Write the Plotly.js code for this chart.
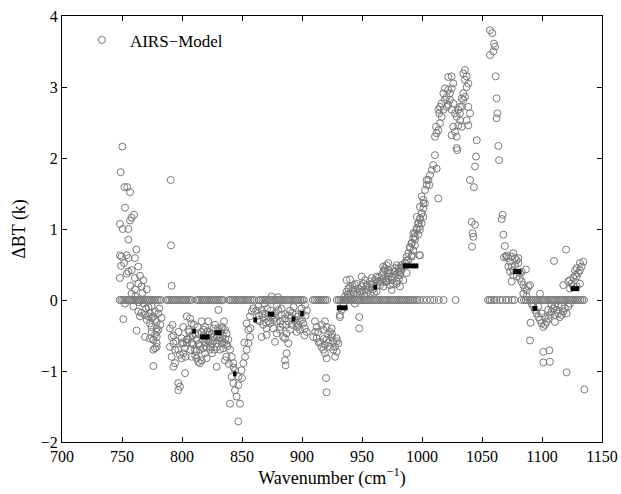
<!DOCTYPE html>
<html>
<head>
<meta charset="utf-8">
<script src="https://cdn.plot.ly/plotly-3.0.1.min.js"></script>
<style>html,body{margin:0;padding:0;background:#fff;}#chart{width:621px;height:494px;}</style>
</head>
<body>
<div id="chart"></div>
<script>
// ---- Data ----
// Band 745-792 cm-1
const band1Wn = [750.3,748.9,752,754.4,756.7,752.5,760,758,756.7,748.3,750.6,755.3,755.3,762,748.3,749.7,753.9,749.2,751.7,755.3,760.8,763.6,758,753.9,755.3,765,767.8,748.3,760.8,763.6,766.4,770.6,760.8,758,752.5,759.4,763.6,766.4,769.2,771.9,774.7,777.5,765,770.6,773.3,751.1,762.2,769.2,773.3,776.1,778.9,774.7,778.9,776.1,777.5,778.9,776.1,790.6,790.8,791.4,774.7,777.5,780.3,776.1,778.9,774.7,780.3,777.5,776.1,778.9,768,772,781,783,782,757,761,764,767,770,773,779];
const band1Dbt = [2.16,1.80,1.59,1.59,1.52,1.30,1.20,1.16,1.12,1.07,1.00,1.00,0.85,0.71,0.63,0.61,0.63,0.48,0.52,0.59,0.59,0.47,0.42,0.37,0.40,0.34,0.28,0.31,0.31,0.23,0.19,0.15,0.15,0.09,-0.05,-0.09,-0.16,-0.18,-0.21,-0.23,-0.26,-0.28,-0.23,-0.28,-0.33,-0.27,-0.43,-0.52,-0.54,-0.56,-0.52,-0.45,-0.40,-0.70,-0.68,-0.61,-0.93,1.69,0.77,0.20,-0.09,-0.16,-0.19,-0.23,-0.31,-0.38,-0.42,-0.49,-0.56,-0.66,-0.05,-0.10,-0.12,-0.25,-0.35,0.20,0.05,-0.03,0.10,-0.12,-0.18,-0.45];

// Band 790-860 cm-1
const band2Wn = [790.0,791.4,792.8,794.2,791.4,794.2,792.8,790.0,796.9,798.3,799.7,801.1,802.5,801.1,799.7,801.1,803.9,806.7,808.0,805.3,806.7,803.9,809.4,810.8,808.0,812.2,813.6,815.0,816.4,815.0,817.8,819.2,820.5,820.5,823.3,821.9,824.7,826.1,821.9,819.2,816.4,827.5,828.9,828.9,831.7,833.1,834.4,831.7,835.8,837.2,838.6,833.1,828.9,835.8,823.3,802.5,796.9,798.3,796.9,830.3,
806,809,812,814,817,819,822,825,827,830,832,834,836,838,810,813,818,804,807,811,823,826,835,837,839,793,795,797,792,803,
805,808,811,814,816,818,821,824,826,829,831,834,837,812,815,820,825,830,835,800,
840.0,841.4,842.8,844.2,841.4,842.8,844.2,845.5,848.3,840.0,846.9,849.7,851.1,852.5,853.9,855.3,856.7,855.3,853.9,856.7,858.1,859.4,846.9,843,847,850,852,857];
const band2Dbt = [-0.40,-0.52,-0.61,-0.70,-0.80,-0.89,-0.94,-0.66,-0.70,-0.77,-0.82,-0.75,-0.68,-0.61,-0.54,-0.38,-0.23,-0.26,-0.33,-0.42,-0.52,-0.56,-0.63,-0.70,-0.80,-0.82,-0.87,-0.89,-0.85,-0.70,-0.68,-0.75,-0.66,-0.82,-0.59,-0.49,-0.47,-0.40,-0.30,-0.38,-0.30,-0.35,-0.52,-0.61,-0.54,-0.61,-0.68,-0.70,-0.42,-0.47,-0.56,-0.38,-0.94,-0.85,-0.70,-1.03,-1.17,-1.22,-1.27,-0.14,
-0.45,-0.50,-0.55,-0.48,-0.55,-0.60,-0.58,-0.62,-0.70,-0.40,-0.45,-0.50,-0.55,-0.65,-0.35,-0.38,-0.42,-0.60,-0.70,-0.78,-0.45,-0.52,-0.30,-0.80,-0.90,-0.50,-0.58,-0.45,-0.35,-0.80,
-0.55,-0.60,-0.48,-0.62,-0.45,-0.50,-0.44,-0.66,-0.58,-0.66,-0.57,-0.40,-0.62,-0.72,-0.65,-0.55,-0.75,-0.50,-0.60,-0.60,
-0.70,-0.80,-0.89,-0.99,-1.08,-1.17,-1.27,-1.36,-1.46,-1.46,-1.08,-0.99,-0.89,-0.80,-0.70,-0.61,-0.52,-0.42,-0.33,-0.23,-0.16,-0.12,-1.71,-0.95,-1.20,-1.10,-0.60,-0.40];

// Band 860-930 cm-1
const band3Wn = [863.6,866.4,869.1,871.9,865.0,867.7,870.5,873.3,876.1,877.5,880.3,883.0,885.8,888.6,891.4,894.1,896.9,899.7,901.1,902.5,898.3,895.5,890.0,887.2,884.4,881.6,878.9,866.4,870.5,877.5,885.8,888.6,887.2,885.8,886.4,899.7,902.5,
862,864,868,872,874,878,882,884,886,889,892,895,897,900,903,869,879,893,874.7,880,904,902,904,
863,867,871,875,879,883,887,891,895,898,870,876,882,890,896,
910.8,912.2,913.6,909.4,912.2,915.0,916.4,917.7,919.1,920.5,921.9,923.3,924.7,926.1,927.5,928.9,927.5,926.1,919.1,920.5,916.4,917.7,919.1,920.5,924.7,928.9,930.3,923.3,920.0,920.5,911,914,918,922,925,929];
const band3Dbt = [-0.09,-0.14,-0.19,-0.23,-0.30,-0.35,-0.40,-0.33,-0.28,-0.19,-0.14,-0.21,-0.26,-0.30,-0.35,-0.28,-0.23,-0.19,-0.33,-0.40,-0.42,-0.45,-0.42,-0.47,-0.52,-0.42,-0.47,-0.52,-0.49,-0.59,-0.54,-0.61,-0.75,-0.85,-0.92,-0.12,-0.07,
-0.15,-0.22,-0.25,-0.30,-0.15,-0.25,-0.30,-0.35,-0.20,-0.22,-0.18,-0.32,-0.35,-0.28,-0.22,-0.05,-0.08,-0.10,0.05,0.04,-0.15,-0.50,-0.45,
-0.28,-0.20,-0.12,-0.22,-0.30,-0.12,-0.35,-0.25,-0.20,-0.30,-0.32,-0.40,-0.38,-0.15,-0.38,
-0.30,-0.38,-0.45,-0.52,-0.54,-0.59,-0.66,-0.70,-0.63,-0.56,-0.49,-0.45,-0.52,-0.59,-0.66,-0.73,-0.80,-0.70,-0.75,-0.82,-0.35,-0.42,-0.30,-0.38,-0.40,-0.54,-0.61,-0.66,-1.10,-1.30,-0.45,-0.60,-0.55,-0.60,-0.48,-0.58];

// Band 930-1045 cm-1
const band4Wn = [931.6,933.0,934.4,935.8,937.2,938.6,940.0,941.4,942.7,944.1,945.5,946.9,948.3,949.7,951.1,952.5,953.9,955.2,956.6,958.0,959.4,960.8,962.2,963.6,965.0,966.4,967.7,969.1,970.5,971.9,973.3,974.7,976.1,977.5,978.9,980.2,981.6,983.0,984.4,985.8,987.2,988.6,990.0,991.4,992.7,994.1,995.5,996.9,998.3,999.7,1001.1,1002.5,937.2,940.0,949.7,971.9,973.3,981.6,947.7,947.7,931.6,967.7,962.2,970.5,978.9,984.4,987.2,991.4,994.1,996.9,998.3,999.7,1001.1,997.7,
936,939,943,946,950,953,956,959,962,965,968,972,975,978,981,944,952,960,940,957,
938,942,948,954,958,964,970,976,982,
969.2,971.9,974.7,977.5,980.3,983.1,985.8,988.6,991.4,992.8,991.4,994.2,992.8,995.6,996.9,998.3,995.6,999.7,998.3,1001.1,999.7,1002.5,1003.9,1005.3,1006.7,1008.1,1009.4,1010.8,1012.2,1013.6,1003.9,1006.1,1001.1,997.8,994.2,990.0,987.2,998.3,981.7,974.7,978.9,970.6,967.8,966.4,
1010.8,1012.2,1013.6,1011.7,1015.0,1016.4,1014.4,1017.8,1016.4,1019.2,1020.6,1017.8,1019.2,1021.9,1023.3,1024.7,1026.1,1024.7,1021.9,1023.3,1026.1,1024.7,1027.5,1028.9,1031.7,1030.3,1033.1,1026.1,1027.5,1024.7,1028.9,1028.9,1029.4,1031.7,1033.1,1034.4,1035.8,1034.4,1033.1,1037.2,1035.8,1037.2,1038.6,1035.8,1034.4,1038.6,1040.0,1037.2,1038.6,1031.7,1030.3,1013.6,1015.0,1020.6,1021.9,
1045.6,1045.0,1044.2,1040.0,1043.3,1041.4,1044.2,1042.2,1042.8,1041.7];
const band4Dbt = [-0.21,-0.14,-0.05,0.05,0.12,0.16,0.09,0.02,0.14,0.21,0.23,0.16,0.12,0.19,0.23,0.28,0.21,0.14,0.26,0.31,0.23,0.28,0.33,0.26,0.21,0.35,0.40,0.45,0.49,0.42,0.38,0.33,0.40,0.45,0.49,0.40,0.35,0.42,0.47,0.52,0.56,0.66,0.73,0.80,0.87,0.94,1.01,1.08,1.15,1.22,1.29,1.36,0.28,0.29,0.33,0.52,0.21,0.19,-0.24,-0.40,-0.24,0.47,0.12,0.26,0.26,0.28,0.38,0.63,0.77,0.92,0.99,1.08,1.17,0.63,
0.00,0.05,0.08,0.10,0.12,0.15,0.18,0.15,0.20,0.25,0.30,0.30,0.28,0.35,0.30,-0.05,0.05,0.10,0.18,0.10,
0.08,0.20,0.07,0.10,0.22,0.32,0.25,0.22,0.45,
0.42,0.38,0.33,0.40,0.45,0.49,0.52,0.56,0.61,0.70,0.80,0.85,0.94,0.99,1.08,1.13,1.17,1.22,1.31,1.41,1.46,1.55,1.62,1.69,1.76,1.83,1.90,2.04,1.85,1.43,1.69,1.62,1.36,1.03,0.89,0.75,0.61,0.63,0.38,0.14,0.23,0.28,0.19,0.28,
2.30,2.35,2.39,2.44,2.49,2.58,2.63,2.68,2.77,2.82,2.86,2.91,2.98,2.96,2.91,2.98,3.05,3.15,3.14,2.82,2.77,2.68,2.63,2.58,2.53,2.46,2.44,2.44,2.37,2.32,2.30,2.14,2.11,2.63,2.72,2.82,2.86,2.91,2.84,3.00,3.10,3.15,3.05,3.24,3.19,2.72,2.63,2.53,2.46,2.72,2.68,2.68,2.72,2.72,2.75,
2.25,2.02,1.88,1.69,1.59,1.10,1.06,0.94,0.89,0.75];

// Band 1055-1140 cm-1
const band5Wn = [1056.7,1058.6,1060.0,1060.8,1059.4,1056.7,1061.4,1062.2,1062.8,1062.2,1063.6,1064.2,1067.2,1066.4,1067.8,1069.1,1068.3,1070.5,1071.9,1073.3,1074.7,1076.1,1077.5,1078.9,1080.3,1077.5,1074.7,1071.9,1073.3,1076.1,1078.9,1081.6,1083.0,1084.4,1085.8,1087.2,1088.6,1090.0,1086.6,1081.6,1074.7,1083.0,1080.3,1070.0,1076.1,1084.4,1087.2,
1091.4,1092.7,1094.1,1095.5,1096.9,1098.3,1099.7,1101.1,1102.5,1103.9,1105.2,1106.6,1108.0,1109.4,1110.8,1112.2,1113.6,1115.0,1116.4,1117.7,1119.1,1120.5,1121.9,1123.3,1096.9,1099.7,1102.5,1105.2,1108.0,1110.8,1113.6,1116.4,1090.5,1090.0,1101.1,1106.1,1101.1,1106.6,1120.5,1135.3,1098.3,1110.8,
1117.7,1120.0,1110.0,1121.9,1123.3,1124.7,1126.1,1127.5,1128.9,1130.2,1131.6,1133.0,1134.4,1131.6,1128.9,1127.5,1126.1,1128.9,1131.6,1123.3];
const band5Dbt = [3.80,3.76,3.61,3.57,3.50,3.45,3.15,2.84,2.63,2.56,2.17,1.97,1.20,1.14,0.92,0.76,0.60,0.63,0.59,0.54,0.61,0.66,0.59,0.56,0.52,0.49,0.47,0.47,0.40,0.35,0.33,0.31,0.26,0.21,0.16,0.14,0.19,0.21,0.43,0.38,0.26,0.40,0.59,0.61,0.42,0.09,0.05,
-0.05,-0.09,-0.14,-0.19,-0.24,-0.28,-0.33,-0.38,-0.35,-0.31,-0.26,-0.21,-0.16,-0.12,-0.09,-0.14,-0.19,-0.24,-0.21,-0.16,-0.12,-0.19,-0.09,-0.05,-0.09,-0.19,-0.24,-0.14,-0.07,-0.21,-0.07,-0.09,-0.32,-0.57,-0.73,-0.71,-0.88,-0.87,-1.02,-1.26,0.09,-0.31,
0.21,0.71,0.55,0.26,0.28,0.23,0.31,0.35,0.33,0.38,0.42,0.47,0.54,0.52,0.45,0.42,0.19,0.19,0.23,0.16];

// Channels where AIRS-Model is exactly zero
const zeroWn = [748,749.5,751,752.5,754,755.5,757,758.5,760,761.5,763,764.5,766,767.5,769,770.5,772,773.5,775,776.5,778,779.5,781,782.5,
787,788.5,790,791.5,793,794.5,796,797.5,799,800.5,802,803.5,805,806.5,808,
812,813.5,815,816.5,818,819.5,821,822.5,824,825.5,827,828.5,830,831.5,833,834.5,
839,840.5,842,843.5,845,846.5,848,849.5,851,852.5,854,855.5,857,858.5,860,
864,865.5,867,868.5,870,871.5,873,874.5,876,877.5,879,880.5,882,883.5,885,886.5,888,889.5,891,892.5,894,895.5,897,898.5,900,901.5,
909,910.5,912,913.5,915,916.5,918,919.5,921,
929,930.5,932,933.5,935,936.5,938,939.5,941,942.5,944,945.5,947,948.5,950,951.5,953,954.5,956,957.5,959,960.5,962,963.5,965,966.5,968,969.5,971,972.5,974,975.5,977,978.5,980,981.5,983,984.5,986,987.5,989,990.5,992,994,996,998,1001,1004,1007,1010,1014,1018,1028,
1055,1056.5,1058,1060,1062,1065,1067,1070,1072,1075,1077,
1083,1085,1086.5,1088,1090,1091.5,1093,1094.5,1096,1097.5,1099,1100.5,1102,1103.5,1105,1106.5,1108,1109.5,1111,1112.5,1114,1115.5,1117,1118.5,1120,1121.5,1123,1124.5,1126,1127.5,1129,1130.5,1132,1133.5,1135];

// Band-mean markers (black bars): start, end, value
const meanStart = [808.5,815,827,842.5,859.5,871.5,891.5,898.5,929,959.5,984,1076,1092,1124];
const meanEnd   = [811.5,823,833,845.5,862.5,877,894.5,901.5,938,962.5,997,1083,1096,1131];
const meanVal   = [-0.44,-0.52,-0.46,-1.04,-0.28,-0.20,-0.27,-0.19,-0.11,0.18,0.48,0.40,-0.12,0.16];

// ---- Build traces ----
const xs = [].concat(band1Wn, band2Wn, band3Wn, band4Wn, band5Wn, zeroWn);
const ys = [].concat(band1Dbt, band2Dbt, band3Dbt, band4Dbt, band5Dbt, zeroWn.map(() => 0));

const barX = [], barY = [];
meanStart.forEach((s, i) => { barX.push(s, meanEnd[i], null); barY.push(meanVal[i], meanVal[i], null); });

const SERIF = "Liberation Serif";

const traces = [
  {
    x: xs, y: ys, type: 'scatter', mode: 'markers', name: 'AIRS\u2212Model',
    marker: {symbol: 'circle-open', size: 7, color: '#7a7a7a', line: {width: 1, color: '#7a7a7a'}},
    showlegend: true
  },
  {
    x: barX, y: barY, type: 'scatter', mode: 'lines', showlegend: false,
    line: {color: '#000', width: 5}, hoverinfo: 'skip'
  }
];

const axisCommon = {
  showgrid: false, zeroline: false, showline: true, linecolor: '#000', linewidth: 1,
  mirror: 'ticks', ticks: 'inside', ticklen: 5, tickcolor: '#000',
  tickfont: {family: SERIF, size: 16, color: '#000'}
};

const layout = {
  width: 621, height: 494,
  margin: {l: 62, r: 19, t: 16, b: 52},
  paper_bgcolor: '#fff', plot_bgcolor: '#fff',
  font: {family: SERIF, color: '#000'},
  xaxis: Object.assign({}, axisCommon, {
    range: [700, 1150], tickvals: [700,750,800,850,900,950,1000,1050,1100,1150],
    title: {text: 'Wavenumber (cm<sup>\u22121</sup>)', font: {size: 18, family: SERIF, color: '#000'}, standoff: 2}
  }),
  yaxis: Object.assign({}, axisCommon, {
    range: [-2, 4], tickvals: [-2,-1,0,1,2,3,4],
    title: {text: '\u0394BT (k)', font: {size: 18, family: SERIF, color: '#000'}, standoff: 10}
  }),
  legend: {
    x: 0.022, y: 0.985, xanchor: 'left', yanchor: 'top', itemwidth: 46,
    bgcolor: 'rgba(0,0,0,0)', borderwidth: 0,
    font: {size: 17, family: SERIF, color: '#000'}
  },
  showlegend: true
};

Plotly.newPlot('chart', traces, layout, {staticPlot: true, displayModeBar: false});
</script>
</body>
</html>
